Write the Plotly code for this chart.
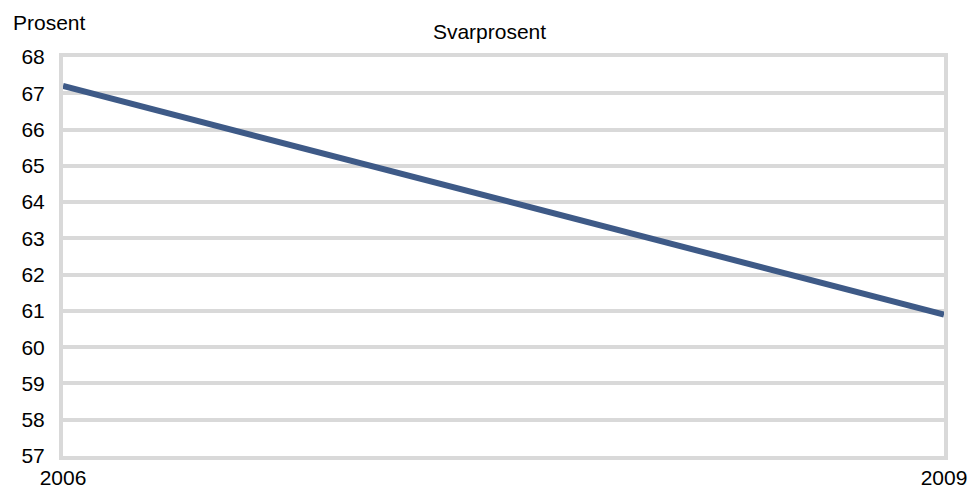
import plotly.graph_objects as go

years = [2006, 2009]
svarprosent = [67.2, 60.9]
y_ticks = list(range(57, 69))
x_ticks = [2006, 2009]

W, H = 979, 488
FONT = "Liberation Sans, Arial, sans-serif"
GRID = "#d9d9d9"
FS = 21

fig = go.Figure()
fig.add_trace(go.Scatter(
    x=years, y=svarprosent, mode="lines",
    line=dict(color="#3e5a87", width=6),
    showlegend=False, hoverinfo="skip",
))

fig.update_layout(
    width=W, height=H,
    margin=dict(l=55, r=43, t=49, b=40, autoexpand=False),
    paper_bgcolor="white", plot_bgcolor="white",
    font=dict(family=FONT, size=FS, color="black"),
    title=dict(text="Svarprosent", x=481.5 / W, xanchor="center",
               y=1 - 24 / H, yanchor="middle", yref="container",
               font=dict(family=FONT, size=FS, color="black")),
    xaxis=dict(range=[2006, 2009], tickvals=x_ticks, ticktext=[str(v) for v in x_ticks],
               showgrid=False, zeroline=False, showline=True, mirror=True,
               linecolor=GRID, linewidth=4, ticks="", ticklabelstandoff=0,
               automargin=False,
               tickfont=dict(family=FONT, size=FS, color="black")),
    yaxis=dict(range=[57, 68], tickvals=y_ticks, showgrid=True, gridcolor=GRID,
               gridwidth=4, zeroline=False, showline=True, mirror=True,
               linecolor=GRID, linewidth=4, ticks="", ticklabelstandoff=10,
               automargin=False,
               tickfont=dict(family=FONT, size=FS, color="black")),
    annotations=[dict(text="Prosent", xref="paper", yref="paper",
                      x=0, y=1, xanchor="left", yanchor="middle",
                      xshift=-52, yshift=35, showarrow=False,
                      font=dict(family=FONT, size=FS, color="black"))],
)

fig.write_html("out.html")
